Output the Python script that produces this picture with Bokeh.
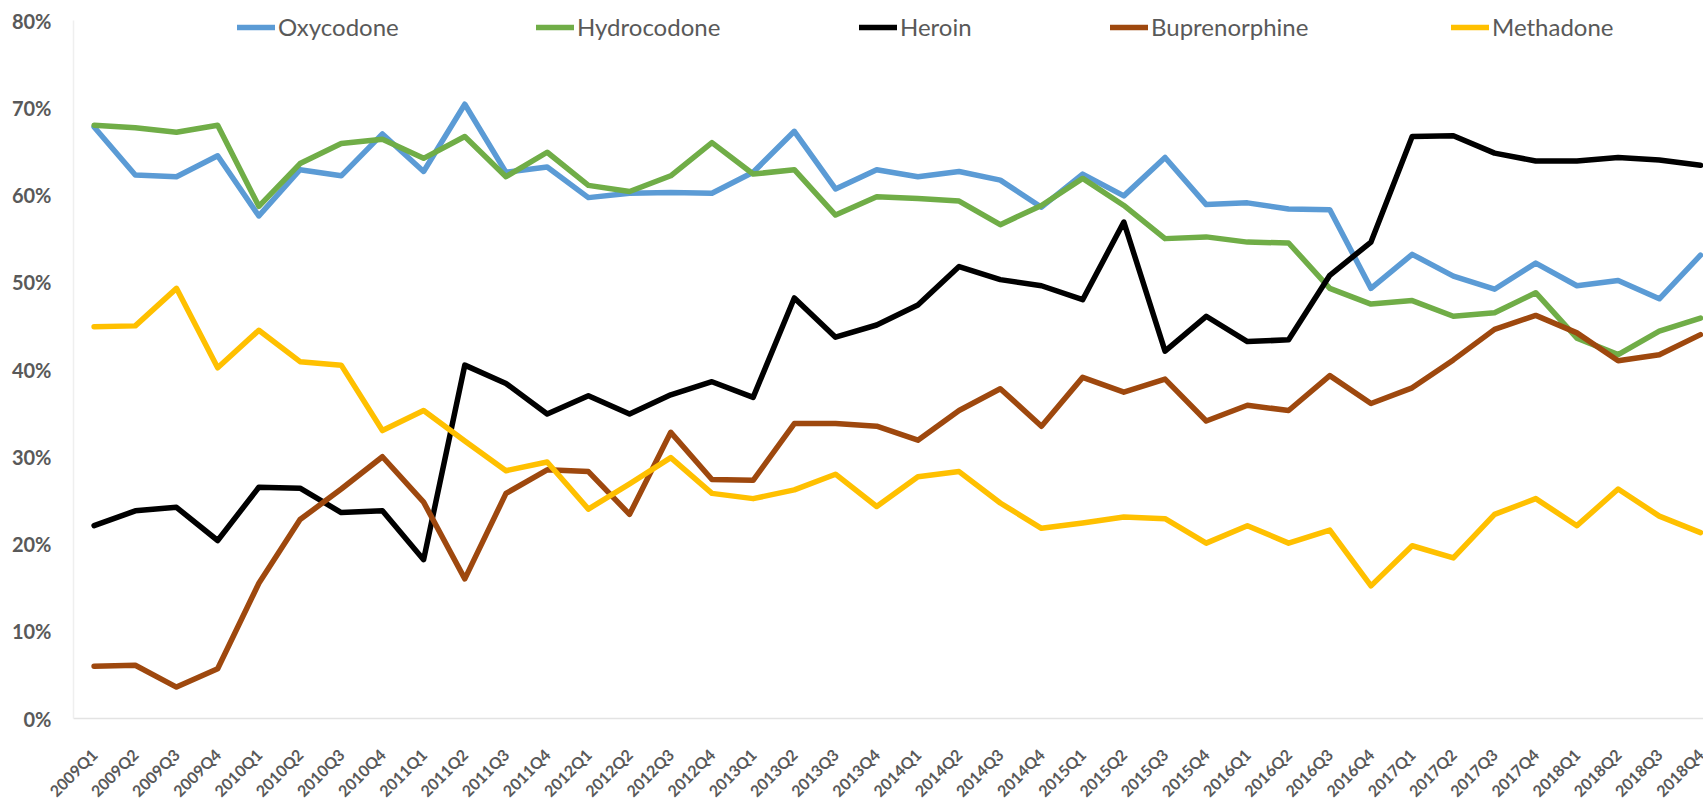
import math
from bokeh.plotting import figure
from bokeh.models import (Range1d, Legend, LegendItem, ColumnDataSource, LabelSet)
from bokeh.core.properties import value
from bokeh.embed import file_html
from bokeh.resources import INLINE

quarters = [f"{y}Q{q}" for y in range(2009, 2019) for q in range(1, 5)]

oxycodone = [67.8, 62.3, 62.1, 64.5, 57.6, 62.9, 62.2, 67.0, 62.7, 70.4,
             62.6, 63.2, 59.7, 60.2, 60.3, 60.2, 62.6, 67.3, 60.7, 62.9,
             62.1, 62.7, 61.7, 58.6, 62.4, 59.9, 64.3, 58.9, 59.1, 58.4,
             58.3, 49.3, 53.2, 50.7, 49.2, 52.2, 49.6, 50.2, 48.1, 53.1]
hydrocodone = [68.0, 67.7, 67.2, 68.0, 58.7, 63.6, 65.9, 66.4, 64.2, 66.7,
               62.1, 64.9, 61.1, 60.4, 62.2, 66.0, 62.4, 62.9, 57.7, 59.8,
               59.6, 59.3, 56.6, 58.8, 61.9, 58.8, 55.0, 55.2, 54.6, 54.5,
               49.3, 47.5, 47.9, 46.1, 46.5, 48.8, 43.6, 41.7, 44.4, 45.9]
heroin = [22.1, 23.8, 24.2, 20.4, 26.5, 26.4, 23.6, 23.8, 18.2, 40.5,
          38.4, 34.9, 37.0, 34.9, 37.1, 38.6, 36.8, 48.2, 43.7, 45.1,
          47.4, 51.8, 50.3, 49.6, 48.0, 56.9, 42.1, 46.1, 43.2, 43.4,
          50.8, 54.6, 66.7, 66.8, 64.8, 63.9, 63.9, 64.3, 64.0, 63.4]
buprenorphine = [6.0, 6.1, 3.6, 5.7, 15.5, 22.8, 26.3, 30.0, 24.8, 16.0,
                 25.8, 28.5, 28.3, 23.4, 32.8, 27.4, 27.3, 33.8, 33.8, 33.5,
                 31.9, 35.3, 37.8, 33.5, 39.1, 37.4, 38.9, 34.1, 35.9, 35.3,
                 39.3, 36.1, 37.9, 41.1, 44.6, 46.2, 44.2, 41.0, 41.7, 44.0]
methadone = [44.9, 45.0, 49.3, 40.2, 44.5, 40.9, 40.5, 33.0, 35.3, 31.8,
             28.4, 29.4, 24.0, 26.9, 29.9, 25.8, 25.2, 26.2, 28.0, 24.3,
             27.7, 28.3, 24.7, 21.8, 22.4, 23.1, 22.9, 20.1, 22.1, 20.1,
             21.6, 15.2, 19.8, 18.4, 23.4, 25.2, 22.1, 26.3, 23.2, 21.3]

series_names = ["Oxycodone", "Hydrocodone", "Heroin", "Buprenorphine", "Methadone"]
series_values = [oxycodone, hydrocodone, heroin, buprenorphine, methadone]
series_colors = ["#5B9BD5", "#70AD47", "#000000", "#9E480E", "#FFC000"]
y_ticks = [0, 0.1, 0.2, 0.3, 0.4, 0.5, 0.6, 0.7, 0.8]
y_tick_labels = ["0%", "10%", "20%", "30%", "40%", "50%", "60%", "70%", "80%"]

FONT = "Lato"
GRAY = "#595959"

# ---- layout in pixels -------------------------------------------------------
W, H = 1703, 805
TOP = 20          # space above the 80% line
AREA_H = 698      # height of the 0%..80% plot area
BELOW = H - TOP - AREA_H   # room for rotated category labels
LEFT = 73         # x pixel of the vertical axis line
LAST_X = 1700     # x pixel of the last category point
LABEL_DROP = 33   # pixels from the 0% line down to the label anchors
n = len(quarters)
pitch = (LAST_X - LEFT) / (n - 0.5)
x_start = -0.5 - LEFT / pitch
x_end = (n - 1) + (W - LAST_X) / pitch
per_px = y_ticks[-1] / AREA_H
y_min = -BELOW * per_px
y_max = y_ticks[-1] + TOP * per_px

p = figure(width=W, height=H, output_backend="svg", toolbar_location=None,
           x_axis_type=None, y_axis_type=None,
           x_range=Range1d(x_start, x_end), y_range=Range1d(y_min, y_max),
           min_border_left=0, min_border_right=0, min_border_top=0,
           min_border_bottom=0)
p.outline_line_color = None
p.background_fill_color = "white"
p.border_fill_color = "white"

# axis lines (category axis at 0%, faint value axis at the left edge of the area)
p.segment(x0=[-0.5], y0=[y_ticks[0]], x1=[n - 0.5], y1=[y_ticks[0]],
          line_color="#e3e3e3", line_width=1.5)
p.segment(x0=[-0.5], y0=[y_ticks[0]], x1=[-0.5], y1=[y_ticks[-1]],
          line_color="#efefef", line_width=1.5)

x = list(range(n))
renderers = []
for name, vals, col in zip(series_names, series_values, series_colors):
    src = ColumnDataSource(dict(x=x, y=[v / 100 for v in vals]))
    r = p.line("x", "y", source=src, line_color=col, line_width=5.5,
               line_join="round", line_cap="round")
    renderers.append(r)

# category labels, rotated (anchors placed below the 0% line)
label_y = y_ticks[0] - LABEL_DROP * per_px
label_src = ColumnDataSource(dict(x=x, y=[label_y] * n, text=quarters))
p.add_layout(LabelSet(x="x", y="y", text="text", source=label_src,
                      angle=math.pi / 4, text_align="right", text_baseline="middle",
                      text_font=value(FONT), text_font_style="bold",
                      text_font_size="16px", text_color=GRAY))

# value-axis labels
ylab_src = ColumnDataSource(dict(x=[-0.5] * len(y_ticks), y=y_ticks, text=y_tick_labels))
p.add_layout(LabelSet(x="x", y="y", text="text", source=ylab_src,
                      text_align="right", text_baseline="middle",
                      text_font=value(FONT), text_font_style="bold",
                      text_font_size="20px", text_color=GRAY, x_offset=-22))

# legend entries placed individually (pixels from the frame's bottom-left)
legend_x = [237, 536, 859, 1110, 1451]
legend_bottom_from_top = 41
for name, r, lx in zip(series_names, renderers, legend_x):
    lg = Legend(items=[LegendItem(label=name, renderers=[r])],
                location=(lx, H - legend_bottom_from_top), orientation="horizontal",
                padding=0, margin=0, spacing=0,
                glyph_width=38, glyph_height=20, label_standoff=3,
                label_text_font=FONT, label_text_font_size="24px",
                label_text_color=GRAY,
                border_line_color=None, background_fill_alpha=0)
    p.add_layout(lg, "center")

open("out.html", "w").write(file_html(p, INLINE))
